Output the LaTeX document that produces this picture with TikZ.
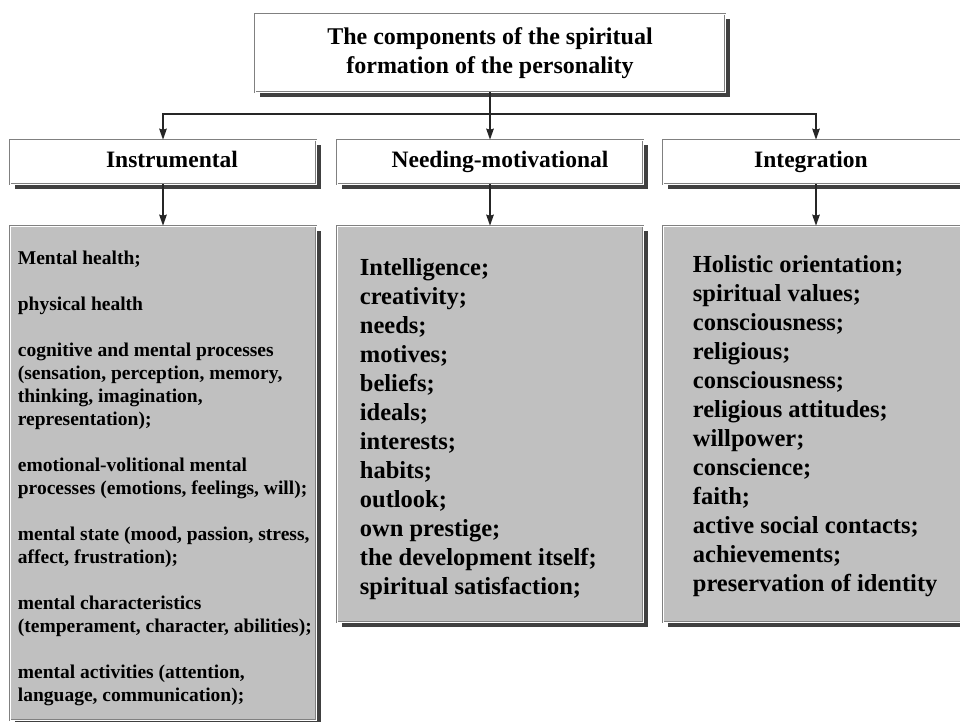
\documentclass[tikz,border=0pt]{standalone}
\usepackage{fontspec}
\setmainfont{Liberation Serif}
\usetikzlibrary{shadows,arrows.meta,calc}

\definecolor{listgray}{RGB}{192,192,192}
\definecolor{framegray}{RGB}{128,128,128}
\definecolor{shadowgray}{RGB}{64,64,64}

\begin{document}
\begin{tikzpicture}
            [
            x=1pt, y=-1pt,
            framed/.style={rectangle, draw=framegray, line width=0.6pt,
                double=white, double distance=0.7pt,
                drop shadow={shadow xshift=5pt, shadow yshift=-5pt,
                    fill=shadowgray, opacity=1}},
            title box/.style={framed, fill=white, minimum width=470pt,
                minimum height=78pt, align=center,
                font=\fontsize{24}{29}\selectfont\bfseries},
            head box/.style={framed, fill=white, minimum width=306pt,
                minimum height=44pt, text height=16pt, text depth=5pt,
                font=\fontsize{23.5}{28}\selectfont\bfseries},
            nudge/.style={execute at begin node={\hspace*{#1}}},
            list box/.style={framed, fill=listgray, minimum width=306pt,
                minimum height=#1},
            list text/.style={anchor=west, inner sep=0pt, align=left,
                font=\fontsize{24.5}{29}\selectfont\bfseries},
            small text/.style={list text, font=\fontsize{19.5}{23}\selectfont\bfseries},
            link/.style={line width=1.6pt, draw=black!85},
            arrow/.style={link, -{Stealth[length=11pt, width=7.5pt, inset=1pt]}}
            ]

            \useasboundingbox (0,0) rectangle (960,722);

            \node (title) [title box] at (490,53)
                {The components of the spiritual\\formation of the personality};

            % Second level
            \node (instr-head) [head box, nudge=18pt] at (163,162) {Instrumental};
            \node (need-head) [head box, nudge=20pt] at (490,162) {Needing-motivational};
            \node (integ-head) [head box, nudge=-10pt] at (816,162) {Integration};

            % Lists
            \node (instr-list) [list box=494pt] at (163,473) {};
            \node (need-list) [list box=396pt] at (490,424) {};
            \node (integ-list) [list box=396pt] at (816,424) {};

            \node (instr-items) [small text] at ([xshift=8pt, yshift=-5pt]instr-list.west)
                {Mental health;\\[23pt]
                 physical health\\[23pt]
                 cognitive and mental processes\\
                 (sensation, perception, memory,\\
                 thinking, imagination,\\
                 representation);\\[23pt]
                 emotional-volitional mental\\
                 processes (emotions, feelings, will);\\[23pt]
                 mental state (mood, passion, stress,\\
                 affect, frustration);\\[23pt]
                 mental characteristics\\
                 (temperament, character, abilities);\\[23pt]
                 mental activities (attention,\\
                 language, communication);};

            \node (need-items) [list text] at ([xshift=23pt, yshift=-5pt]need-list.west)
                {Intelligence;\\ creativity;\\ needs;\\ motives;\\ beliefs;\\ ideals;\\
                 interests;\\ habits;\\ outlook;\\ own prestige;\\
                 the development itself;\\ spiritual satisfaction;};

            \node (integ-items) [list text] at ([xshift=30pt, yshift=-2pt]integ-list.west)
                {Holistic orientation;\\ spiritual values;\\ consciousness;\\
                 religious;\\ consciousness;\\ religious attitudes;\\ willpower;\\
                 conscience;\\ faith;\\ active social contacts;\\ achievements;\\
                 preservation of identity};

            \draw [link] (title.south) -- ++(0,22) coordinate (hub);

            \foreach \col in {instr, need, integ}{
                \draw [arrow] (hub) -| (\col-head.north);
                \draw [arrow] (\col-head.south) -- (\col-list.north);
            }

        \end{tikzpicture}
\end{document}
